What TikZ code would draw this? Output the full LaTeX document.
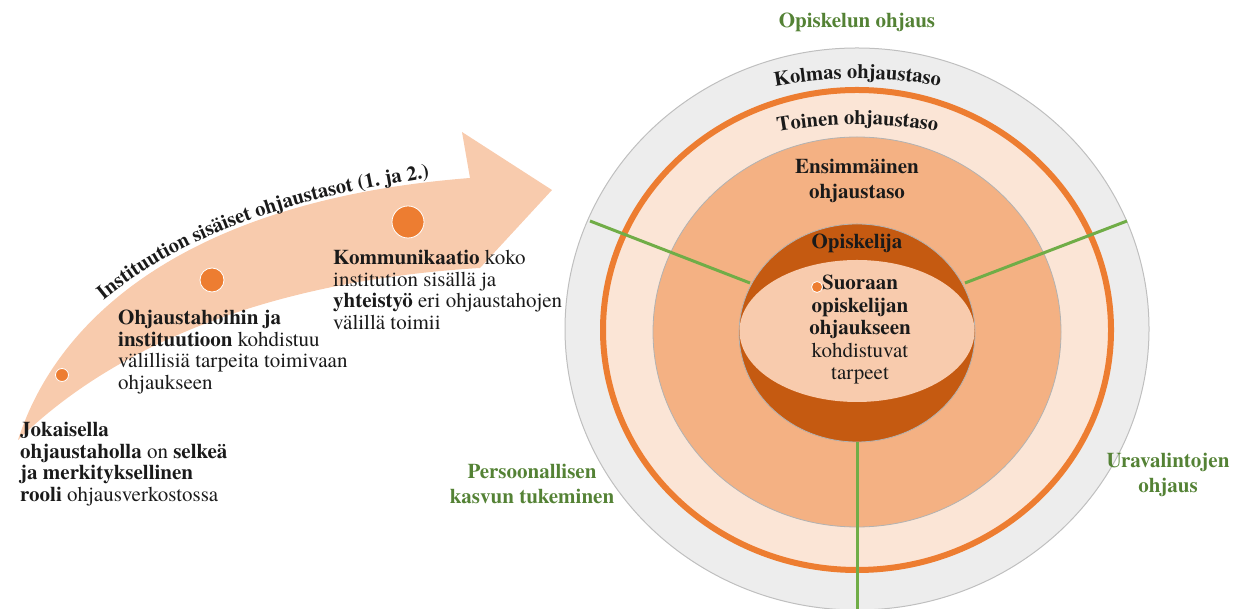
\documentclass[tikz,border=0pt]{standalone}
\usepackage{fontspec}
\setmainfont{texgyretermes}[Extension=.otf, UprightFont=*-regular, BoldFont=*-bold, ItalicFont=*-italic, BoldItalicFont=*-bolditalic]
\usetikzlibrary{decorations.text}
\definecolor{peach}{HTML}{F8CBAD}
\definecolor{lightpeach}{HTML}{FBE5D6}
\definecolor{midorange}{HTML}{F4B183}
\definecolor{darkorange}{HTML}{C55A11}
\definecolor{accent}{HTML}{ED7D31}
\definecolor{ringgray}{HTML}{EDEDED}
\definecolor{edgegray}{HTML}{BFBFBF}
\definecolor{lblgreen}{HTML}{548235}
\definecolor{linegreen}{HTML}{70AD47}
\definecolor{ink}{HTML}{1A1A1A}
\begin{document}
\begin{tikzpicture}[x=1pt,y=1pt,
  body/.style={font=\fontsize{21}{21.5}\selectfont, align=left, text=ink, inner sep=0pt, anchor=north west},
  ctext/.style={font=\fontsize{21}{22.5}\selectfont, align=center, text=ink, inner sep=0pt},
  glabel/.style={font=\fontsize{21}{24.5}\selectfont\bfseries, align=center, text=lblgreen, inner sep=0pt},
  dot/.style={circle, fill=accent, draw=white, line width=0.8pt, inner sep=0pt},
  gline/.style={draw=linegreen, line width=3pt},
  curvedlabel/.style={decorate, decoration={text along path, text align=center, text color=ink, text={|\fontsize{20.5}{20.5}\selectfont\bfseries|#1}}}
]
\useasboundingbox (0,0) rectangle (1252,609);

% ---- curved arrow ----
\fill[peach] (18,169) .. controls (60,300) and (200,410) .. (470,431)
  -- (462,477) -- (552,419) -- (480,341)
  .. controls (280,329) and (120,269) .. (18,169) -- cycle;

\node[dot, minimum size=13pt] (d1) at (62,234) {};
\node[dot, minimum size=24pt] (d2) at (212,329) {};
\node[dot, minimum size=32pt] (d3) at (408,387) {};

\path[curvedlabel={Instituution sisäiset ohjaustasot (1. ja 2.)}]
  (86,294) .. controls (165,366) and (280,413) .. (452,434);

\node[body] (ta) at (20,187) {\textbf{Jokaisella}\\\textbf{ohjaustaholla} on \textbf{selkeä}\\\textbf{ja merkityksellinen}\\\textbf{rooli} ohjausverkostossa};
\node[body] (tb) at (118,299) {\textbf{Ohjaustahoihin ja}\\\textbf{instituutioon} kohdistuu\\välillisiä tarpeita toimivaan\\ohjaukseen};
\node[body] (tc) at (333,359) {\textbf{Kommunikaatio} koko\\institution sisällä ja\\\textbf{yhteistyö} eri ohjaustahojen\\välillä toimii};

% ---- concentric levels ----
\filldraw[fill=ringgray, draw=edgegray, line width=1pt] (857,280) ellipse [x radius=292, y radius=281];
\filldraw[fill=lightpeach, draw=accent, line width=6pt] (857,279) ellipse [x radius=254, y radius=240];
\filldraw[fill=midorange, draw=gray!60, line width=0.8pt] (857,277) ellipse [x radius=204, y radius=195];
\filldraw[fill=darkorange, draw=gray!60, line width=0.8pt] (857,276) ellipse [x radius=118, y radius=109];
\fill[peach] (857,278) ellipse [x radius=117.5, y radius=71];

% green dividers
\coordinate (gl1) at (590,388); \coordinate (gl2) at (750,326);
\coordinate (gr1) at (1127,388); \coordinate (gr2) at (965,326);
\coordinate (gb1) at (857,167); \coordinate (gb2) at (857,0);
\draw[gline] (gl1) -- (gl2);
\draw[gline] (gr1) -- (gr2);
\draw[gline] (gb1) -- (gb2);

% level labels
\path[curvedlabel={Kolmas ohjaustaso}] (757,519) .. controls (820,534) and (895,534) .. (958,519);
\path[curvedlabel={Toinen ohjaustaso}] (757,473) .. controls (820,488) and (895,488) .. (958,473);
\node[ctext, font=\fontsize{21}{25}\selectfont\bfseries] (l1) at (857,428) {Ensimmäinen\\ohjaustaso};
\node[ctext, font=\fontsize{21}{22}\selectfont\bfseries] (stu) at (857,366) {Opiskelija};
\node[ctext] (need) at (860,279) {\textbf{Suoraan}\\\textbf{opiskelijan}\\\textbf{ohjaukseen}\\kohdistuvat\\tarpeet};
\node[dot, minimum size=11pt] (d4) at (817,322) {};

% green area labels
\node[glabel] (g1) at (857,587) {Opiskelun ohjaus};
\node[glabel] (g2) at (532,125) {Persoonallisen\\kasvun tukeminen};
\node[glabel] (g3) at (1168,134) {Uravalintojen\\ohjaus};
\end{tikzpicture}
\end{document}
